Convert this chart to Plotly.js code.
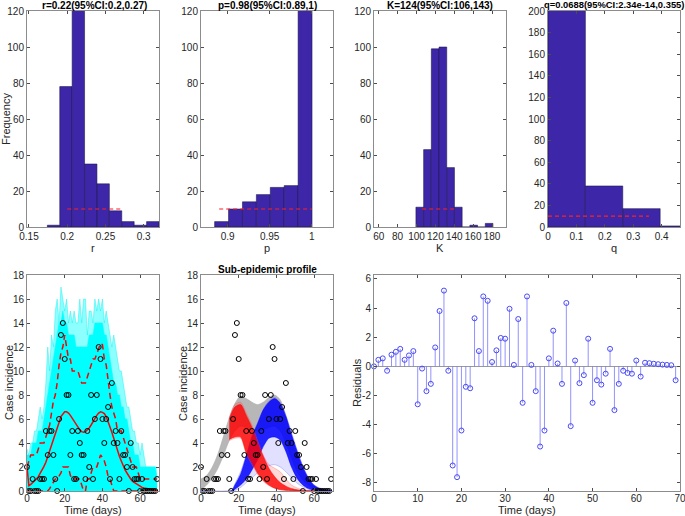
<!DOCTYPE html>
<html><head><meta charset="utf-8">
<script src="https://cdn.plot.ly/plotly-3.0.1.min.js"></script>
<style>html,body{margin:0;padding:0;background:#fff}#chart{width:685px;height:516px}</style>
</head><body><div id="chart"></div>
<script>
// ---------- Histogram data (300 bootstrap estimates) ----------
const rEdgeStart = 0.174, rBinWidth = 0.01622;
const rCounts = [1, 78, 146, 35, 24, 9, 3, 1, 3];
const rCI = [0.2, 0.27];

const pEdgeStart = 0.8846, pBinWidth = 0.01654;
const pCounts = [3, 10, 14, 18, 22, 23, 210];
const pCI = [0.89, 1];

const KEdgeStart = 99.4, KBinWidth = 8.16;
const KCounts = [11, 43, 99, 100, 33, 11, 0, 1, 0, 2];
const KCI = [106, 143];

const qEdgeStart = 0, qBinWidth = 0.1315;
const qCounts = [244, 38, 17, 1];
const qCI = [2.34e-14, 0.355];
const ciLevel = 10;

// ---------- Time series ----------
const days = Array.from({length: 70}, (_, i) => i);
const cases = [2,0,0,1,0,0,0,1,1,1, 5,3,5,5,3,1,0,6,13,14, 11,8,8,3,5,1,1,5,4,3,
               3,1,5,2,8,1,6,8,12,11, 6,4,6,7,1,9,4,5,4,1, 5,3,3,2,0,4,2,1,1,1,
               0,1,0,0,0,0,0,0,0,1];
const fitted = [2.0,0.45,0.55,0.7,0.8,1.0,1.2,1.45,1.75,2.05, 2.4,2.85,3.3,3.8,4.3,4.8,5.2,5.7,6.2,6.4,
                6.6,6.6,6.5,6.3,6.05,5.8,5.5,5.3,5.1,4.95, 4.9,4.95,5.1,5.25,5.5,5.8,6.1,6.3,6.5,6.6,
                6.55,6.45,6.2,5.8,5.35,4.9,4.4,3.85,3.4,2.9, 2.5,2.05,1.75,1.5,1.2,1.0,0.8,0.7,0.55,0.5,
                0.4,0.3,0.25,0.22,0.18,0.15,0.12,0.1,0.08,0.05];
const piUpper = [2,2.5,3,3,3,3,3.5,4,4,4, 4.5,5,5.5,6.5,7.5,8,9,10.5,11.5,12,
                 13,12,11,11,10,10,10,10,9.5,9, 9,9,9.5,10,10.5,11,11,11.5,12,12.3,
                 12.2,11,10.5,9,8,7,6.5,6,5,5, 5,4.5,4,3.5,3,2.5,2,2,2,1.5,
                 1,1,1,1,1,1,1,1,1,1];
const piLower = [0,0,0,0,0,0,0,0,0,0, 0,0,0.2,0.5,0.8,1,1,1.3,1.5,2,
                 2,2,2,1.3,1,1,1,1,1,0.5, 0,0,1,1,1.5,2,2,2,2.5,3,
                 2.8,2.5,2,1.2,1,0.5,0,0,0,0, 0,0,0,0,0,0,0,0,0,0,
                 0,0,0,0,0,0,0,0,0,0];
const simMax = [3.5,3,4,4,5,5,6,7,6,7, 9,12,10,13,12,15,16,14,17,16,
                15,16,14,15,14,15,14,14,16,14, 16,16,13,15,15,14,16,15,16,15,
                16,14,15,14,13,12,13,12,11,10, 10,9,8,7,7,6,5,5,4,4,
                3,4,3,2,2,2,2,2,2,2];
const simDense = [3,3,3,4,4,4,5,5,5,6, 7,8,9,10,11,12,13,14,14,15,
                  14,14,13,13,13,13,12,12,12,12, 12,12,12,13,13,13,14,14,14,14,
                  14,13,13,12,11,10,9,9,8,8, 7,7,6,6,5,4,4,3,3,3,
                  2,2,2,2,2,2,2,2,2,1];
const residuals = [0,0.45,0.55,-0.3,0.8,1.0,1.2,0.45,0.75,1.05, -2.6,-0.15,-1.7,-1.2,1.3,3.8,5.2,-0.3,-6.8,-7.6,
                   -4.4,-1.4,-1.5,3.3,1.05,4.8,4.5,0.3,1.1,1.95, 1.9,3.95,0.1,3.25,-2.5,4.8,0.1,-1.7,-5.5,-4.4,
                   0.55,2.45,0.2,-1.2,4.35,-4.1,0.4,-1.15,-0.6,1.9, -2.5,-0.95,-1.25,-0.5,1.2,-3.0,-1.2,-0.3,-0.45,-0.5,
                   0.4,-0.7,0.25,0.22,0.18,0.15,0.12,0.1,0.08,-0.95];

// ---------- Sub-epidemic profile envelopes ----------
const sumDays = [0,3,6,9,12,15,18,21,24,27,30,33,36,39,42,45,48,51,54,57,60,63,66,69];
const sumHi = [1.0,1.3,2.0,3.1,4.6,6.1,7.3,7.9,7.7,7.4,7.2,7.4,7.8,8.0,7.6,6.3,4.6,3.0,1.8,1.0,0.5,0.25,0.12,0.06];
const sumLo = [0.1,0.5,1.1,1.9,3.0,4.2,5.0,5.4,5.3,5.1,5.0,5.1,5.3,5.4,5.0,4.0,2.7,1.6,0.9,0.45,0.2,0.1,0.05,0.02];

const sub1Days = [15,18,21,24,27,30,33,36,39,42,45,48,51,54,57,60];
const sub1Hi = [6.1,7.2,7.4,6.5,5.5,4.2,3.0,2.2,1.9,1.6,1.0,0.5,0.25,0.12,0.06,0.03];
const sub1Lo = [4.2,4.4,4.4,3.1,2.2,1.4,0.8,0.45,0.22,0.1,0.05,0.02,0.01,0,0,0];
const sub1DenseHi = [6.0,7.0,7.2,6.3,5.3,4.0,2.9,1.9,1.2,0.7,0.4,0.2,0.1,0.05,0.02,0.01];
const sub1DenseLo = [4.3,4.5,4.5,3.2,2.4,1.5,0.9,0.5,0.25,0.12,0.06,0.03,0.01,0,0,0];

const sub2Days = [0,16,18,21,24,27,30,33,36,39,42,45,48,51,54,57,60,63,66,69];
const sub2Hi = [0,0,0.6,1.6,3.0,4.6,5.7,6.8,7.5,7.8,7.4,6.3,4.9,3.4,2.1,1.1,0.5,0.2,0.1,0.05];
const sub2Lo = [0,0,0.05,0.3,0.7,1.1,1.5,1.9,2.1,2.2,2.0,1.6,1.1,0.65,0.35,0.15,0.06,0.02,0.01,0];
const sub2DenseHi = [0,0,0.5,1.4,2.9,4.5,5.6,6.75,7.4,7.7,7.3,6.2,4.7,3.3,2.0,1.05,0.45,0.18,0.08,0.04];
const sub2DenseLo = [0,0,0.15,0.5,1.0,1.75,2.6,3.7,4.4,4.5,4.25,3.3,2.0,1.05,0.5,0.2,0.08,0.03,0.01,0];

// ---------- Tick labels ----------
const rTicks = [0.15,0.2,0.25,0.3], rTickText = ['0.15','0.2','0.25','0.3'];
const pTicks = [0.9,0.95,1], pTickText = ['0.9','0.95','1'];
const KTicks = [60,80,100,120,140,160,180];
const qTicks = [0,0.1,0.2,0.3,0.4], qTickText = ['0','0.1','0.2','0.3','0.4'];
const freqTicks = [0,20,40,60,80,100,120];
const freqTicksQ = [0,20,40,60,80,100,120,140,160,180,200];
const caseTicks = [0,2,4,6,8,10,12,14,16,18];
const timeTicks = [0,20,40,60];
const timeTicks7 = [0,10,20,30,40,50,60,70];
const resTicks = [-8,-6,-4,-2,0,2,4,6], resTickText = ['-8','-6','-4','-2','0','2','4','6'];

// ---------- Build ----------
const W = 685, H = 516;
const FONT = 'Liberation Sans, Arial, Helvetica, sans-serif';
const dx = (a, b) => [a / W, b / W];
const dy = (t, b) => [1 - b / H, 1 - t / H];
const HISTC = '#3e26a8';

function axis(domain, range, tickvals, ticktext, anchor) {
  const a = {domain, range, tickmode: 'array', tickvals, ticks: 'inside', ticklen: 3,
    tickcolor: '#4d4d4d', showline: true, linecolor: '#8c8c8c', linewidth: 1, mirror: 'ticks',
    showgrid: false, zeroline: false, anchor, fixedrange: true, tickangle: 0, automargin: false,
    ticklabeloverflow: 'allow',
    tickfont: {family: FONT, size: 10, color: '#262626'}};
  if (ticktext) a.ticktext = ticktext;
  return a;
}

const traces = [];
function hist(edge0, w, counts, ci, xa, ya) {
  const centers = counts.map((_, i) => edge0 + w * (i + 0.5));
  traces.push({type: 'bar', x: centers, y: counts, width: counts.map(() => w),
    marker: {color: HISTC, line: {color: 'rgba(25,20,70,0.9)', width: 0.6}},
    xaxis: xa, yaxis: ya, hoverinfo: 'skip'});
  traces.push({type: 'scatter', mode: 'lines', x: ci, y: [ciLevel, ciLevel],
    line: {color: '#ff2020', width: 1.2, dash: '4px,3px'}, xaxis: xa, yaxis: ya});
}
hist(rEdgeStart, rBinWidth, rCounts, rCI, 'x', 'y');
hist(pEdgeStart, pBinWidth, pCounts, pCI, 'x2', 'y2');
hist(KEdgeStart, KBinWidth, KCounts, KCI, 'x3', 'y3');
hist(qEdgeStart, qBinWidth, qCounts, qCI, 'x4', 'y4');

// Panel 5: fit with bootstrap simulations
traces.push({type: 'scatter', mode: 'lines', x: days, y: simMax, fill: 'tozeroy',
  fillcolor: 'rgba(0,255,255,0.45)', line: {color: 'rgba(0,240,240,0.7)', width: 0.6}, xaxis: 'x5', yaxis: 'y5'});
traces.push({type: 'scatter', mode: 'lines', x: days, y: simDense, fill: 'tozeroy',
  fillcolor: '#00ffff', line: {color: '#00ffff', width: 0.6}, xaxis: 'x5', yaxis: 'y5'});
traces.push({type: 'scatter', mode: 'lines', x: days, y: piUpper,
  line: {color: '#ff0000', width: 1.5, dash: '6px,4px'}, xaxis: 'x5', yaxis: 'y5'});
traces.push({type: 'scatter', mode: 'lines', x: days, y: piLower,
  line: {color: '#ff0000', width: 1.5, dash: '6px,4px'}, xaxis: 'x5', yaxis: 'y5'});
traces.push({type: 'scatter', mode: 'lines', x: days, y: fitted,
  line: {color: '#ff0000', width: 1.5}, xaxis: 'x5', yaxis: 'y5'});
traces.push({type: 'scatter', mode: 'markers', x: days, y: cases, cliponaxis: false,
  marker: {symbol: 'circle-open', size: 5, color: '#000', line: {width: 1}}, xaxis: 'x5', yaxis: 'y5'});

// Panel 6: sub-epidemic profile
function band(xs, lo, hi, fillc, linec, xa, ya) {
  traces.push({type: 'scatter', mode: 'lines', x: xs, y: lo, line: {color: linec, width: 0.6, shape: 'spline', smoothing: 0.8},
    xaxis: xa, yaxis: ya});
  traces.push({type: 'scatter', mode: 'lines', x: xs, y: hi, fill: 'tonexty', fillcolor: fillc,
    line: {color: linec, width: 0.6, shape: 'spline', smoothing: 0.8}, xaxis: xa, yaxis: ya});
}
band(sumDays, sumLo, sumHi, 'rgba(165,165,165,0.8)', 'rgba(170,170,170,0.9)', 'x6', 'y6');
band(sub2Days, sub2Lo, sub2Hi, 'rgba(90,90,255,0.18)', 'rgba(90,90,255,0.55)', 'x6', 'y6');
band(sub2Days, sub2DenseLo, sub2DenseHi, 'rgba(0,0,255,0.85)', 'rgba(0,0,255,0.9)', 'x6', 'y6');
band(sub1Days, sub1Lo, sub1Hi, 'rgba(255,60,60,0.2)', 'rgba(255,80,80,0.55)', 'x6', 'y6');
band(sub1Days, sub1DenseLo, sub1DenseHi, 'rgba(255,0,0,0.8)', 'rgba(255,0,0,0.85)', 'x6', 'y6');
traces.push({type: 'scatter', mode: 'markers', x: days, y: cases, cliponaxis: false,
  marker: {symbol: 'circle-open', size: 5, color: '#000', line: {width: 1}}, xaxis: 'x6', yaxis: 'y6'});

// Panel 7: residual stems
const stemX = [], stemY = [];
days.forEach((d, i) => { stemX.push(d, d, null); stemY.push(0, residuals[i], null); });
traces.push({type: 'scatter', mode: 'lines', x: stemX, y: stemY,
  line: {color: 'rgba(110,110,255,0.75)', width: 1}, xaxis: 'x7', yaxis: 'y7'});
traces.push({type: 'scatter', mode: 'markers', x: days, y: residuals, cliponaxis: false,
  marker: {symbol: 'circle-open', size: 5, color: '#4a4af5', line: {width: 1}}, xaxis: 'x7', yaxis: 'y7'});

const topY = dy(11, 227), botY = dy(275, 491);
const bottomX = (d, r, t) => Object.assign(axis(d, r, t, null, null), {ticklabelstandoff: -2});
const layout = {
  width: W, height: H, margin: {l: 0, r: 0, t: 0, b: 0}, showlegend: false,
  paper_bgcolor: '#fff', plot_bgcolor: '#fff', bargap: 0,
  font: {family: FONT, size: 10, color: '#262626'},
  xaxis: axis(dx(27, 159), [0.1474, 0.3200], rTicks, rTickText, 'y'),
  yaxis: axis(topY, [0, 120], freqTicks, null, 'x'),
  xaxis2: axis(dx(201, 333), [0.8684, 1.0253], pTicks, pTickText, 'y2'),
  yaxis2: axis(topY, [0, 120], freqTicks, null, 'x2'),
  xaxis3: axis(dx(374, 506), [55, 194.8], KTicks, null, 'y3'),
  yaxis3: axis(topY, [0, 120], freqTicks, null, 'x3'),
  xaxis4: axis(dx(548, 680), [0, 0.4643], qTicks, qTickText, 'y4'),
  yaxis4: axis(topY, [0, 200], freqTicksQ, null, 'x4'),
  xaxis5: Object.assign(bottomX(dx(27, 159), [0, 70], timeTicks), {anchor: 'y5'}),
  yaxis5: axis(botY, [0, 18.001], caseTicks, null, 'x5'),
  xaxis6: Object.assign(bottomX(dx(201, 333), [0, 70], timeTicks), {anchor: 'y6'}),
  yaxis6: axis(botY, [0, 18.001], caseTicks, null, 'x6'),
  xaxis7: Object.assign(bottomX(dx(374, 680), [0, 70.001], timeTicks7), {anchor: 'y7'}),
  yaxis7: Object.assign(axis(botY, [-8.55, 6.27], resTicks, resTickText, 'x7'),
    {zeroline: true, zerolinecolor: '#9a9a9a', zerolinewidth: 1}),
  annotations: []
};
function ann(text, px, py, opts) {
  layout.annotations.push(Object.assign({text, x: px / W, y: 1 - py / H, xref: 'paper', yref: 'paper',
    showarrow: false, xanchor: 'center', yanchor: 'middle',
    font: {family: FONT, size: 11, color: '#000'}}, opts || {}));
}
const bold = {family: FONT, size: 10, color: '#000'};
ann('<b>r=0.22(95%CI:0.2,0.27)</b>', 94, 5, {font: bold});
ann('<b>p=0.98(95%CI:0.89,1)</b>', 267, 5, {font: bold});
ann('<b>K=124(95%CI:106,143)</b>', 440, 5, {font: bold});
ann('<b>q=0.0688(95%CI:2.34e-14,0.355)</b>', 614, 4.5, {font: {family: FONT, size: 9.4, color: '#000'}});
ann('<b>Sub-epidemic profile</b>', 267, 269, {font: bold});
const lab = {family: FONT, size: 11, color: '#262626'};
ann('r', 93, 248, {font: lab});
ann('p', 267, 248, {font: lab});
ann('K', 440, 248, {font: lab});
ann('q', 614, 248, {font: lab});
ann('Time (days)', 93, 510, {font: lab});
ann('Time (days)', 267, 510, {font: lab});
ann('Time (days)', 527, 510, {font: lab});
ann('Frequency', 6, 119, {font: lab, textangle: -90});
ann('Case incidence', 9, 383, {font: lab, textangle: -90});
ann('Case incidence', 183, 383, {font: lab, textangle: -90});
ann('Residuals', 357, 383, {font: lab, textangle: -90});

Plotly.newPlot('chart', traces, layout, {displayModeBar: false, staticPlot: true});
</script></body></html>
